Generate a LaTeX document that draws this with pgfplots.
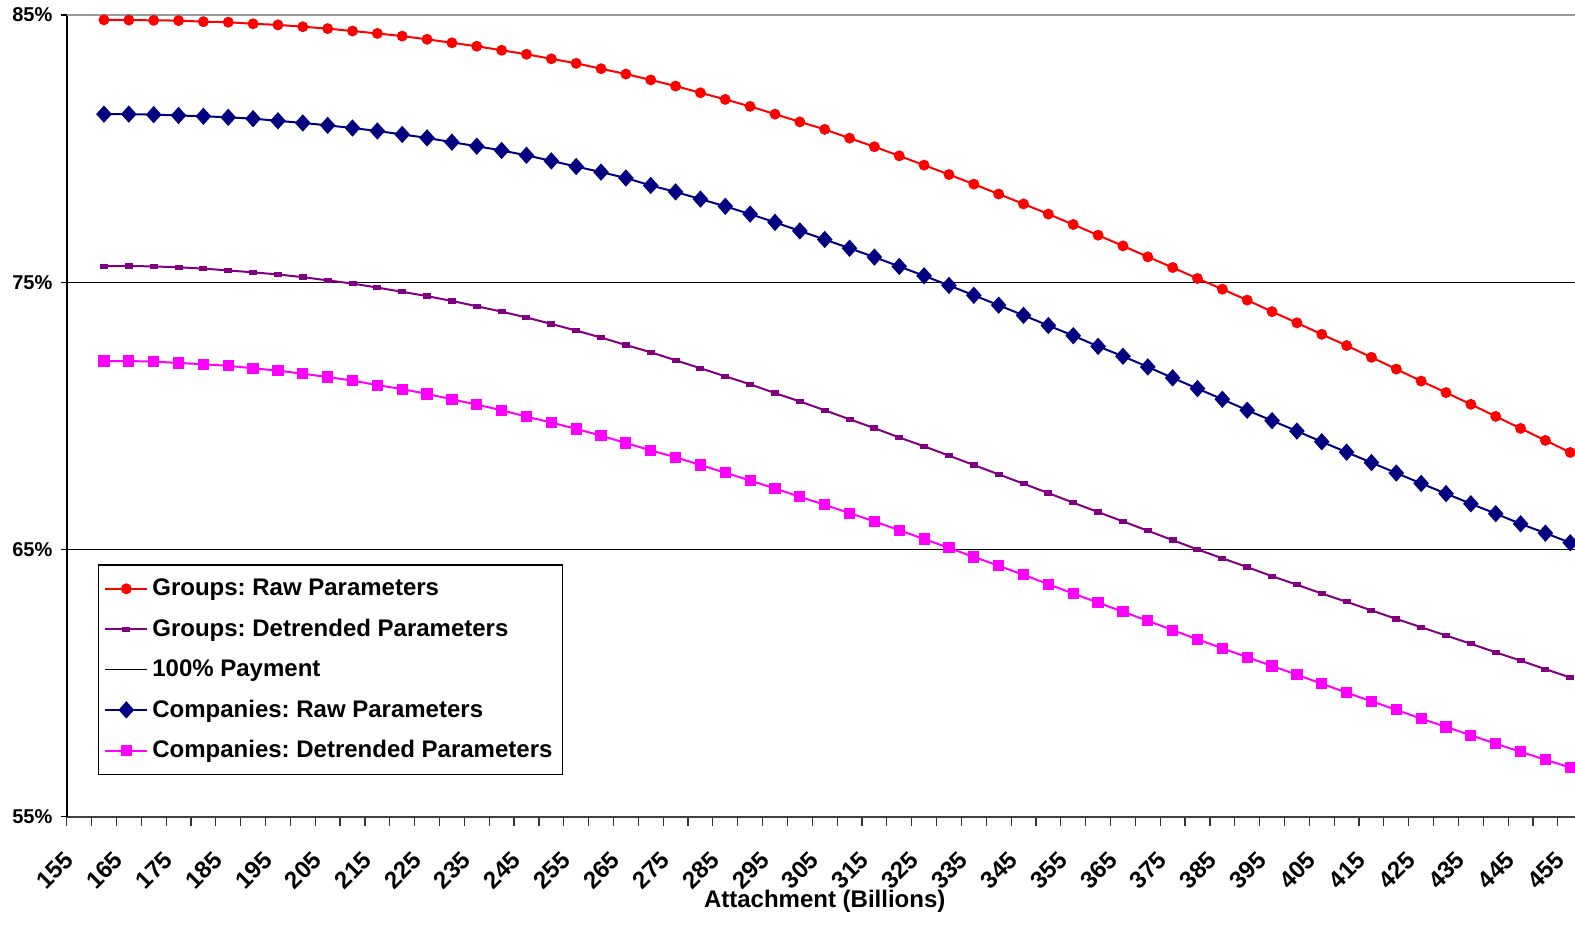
\documentclass[border=0pt]{standalone}
\usepackage{pgfplots}
\pgfplotsset{compat=1.18}
\usepackage{pgfplotstable}
\usepackage{fontspec}
\setmainfont{Liberation Sans}
\frenchspacing

\definecolor{grpraw}{RGB}{255,0,0}
\definecolor{grpdet}{RGB}{128,0,128}
\definecolor{comraw}{RGB}{0,0,128}
\definecolor{comdet}{RGB}{255,0,255}

% attachment (billions) vs. share of loss covered, in percent
\pgfplotstableread{
x    grpraw grpdet comraw comdet
160  84.82  75.60  81.29  72.05
165  84.81  75.61  81.29  72.05
170  84.80  75.59  81.27  72.03
175  84.79  75.56  81.24  71.98
180  84.75  75.51  81.21  71.93
185  84.73  75.44  81.17  71.87
190  84.67  75.37  81.12  71.78
195  84.63  75.29  81.04  71.69
200  84.56  75.19  80.96  71.58
205  84.49  75.07  80.87  71.45
210  84.40  74.95  80.77  71.32
215  84.31  74.80  80.66  71.15
220  84.21  74.64  80.53  71.00
225  84.09  74.48  80.40  70.82
230  83.96  74.30  80.24  70.62
235  83.83  74.10  80.09  70.42
240  83.68  73.90  79.93  70.21
245  83.53  73.68  79.75  69.97
250  83.36  73.44  79.54  69.75
255  83.19  73.19  79.33  69.51
260  82.99  72.93  79.12  69.26
265  82.79  72.65  78.90  68.98
270  82.57  72.38  78.62  68.71
275  82.34  72.08  78.38  68.45
280  82.09  71.78  78.11  68.16
285  81.84  71.48  77.84  67.87
290  81.58  71.18  77.55  67.58
295  81.29  70.85  77.24  67.28
300  81.00  70.54  76.92  66.97
305  80.72  70.21  76.60  66.67
310  80.39  69.87  76.27  66.36
315  80.07  69.54  75.94  66.05
320  79.73  69.19  75.59  65.72
325  79.38  68.86  75.24  65.39
330  79.03  68.51  74.88  65.06
335  78.67  68.16  74.51  64.72
340  78.30  67.81  74.14  64.39
345  77.93  67.46  73.76  64.05
350  77.55  67.11  73.38  63.70
355  77.16  66.75  73.00  63.35
360  76.76  66.40  72.60  63.01
365  76.36  66.05  72.23  62.67
370  75.95  65.70  71.83  62.33
375  75.55  65.35  71.42  61.98
380  75.14  65.00  71.02  61.64
385  74.74  64.67  70.62  61.30
390  74.33  64.34  70.21  60.97
395  73.90  64.00  69.82  60.64
400  73.48  63.68  69.43  60.31
405  73.05  63.35  69.03  59.98
410  72.63  63.04  68.64  59.64
415  72.19  62.72  68.25  59.32
420  71.75  62.40  67.86  59.00
425  71.30  62.09  67.47  58.67
430  70.87  61.78  67.09  58.36
435  70.43  61.47  66.71  58.05
440  69.98  61.15  66.34  57.73
445  69.53  60.84  65.96  57.43
450  69.08  60.52  65.61  57.13
455  68.63  60.21  65.25  56.84
}\payout

\begin{document}
\begin{tikzpicture}
\useasboundingbox (0,0) rectangle (787.5pt,462.5pt);
\begin{axis}[
  at={(33.35pt,54.15pt)}, anchor=south west,
  scale only axis, width=758pt, height=400.85pt,
  xmin=152.5, xmax=457.5, ymin=55, ymax=85,
  clip=false,
  axis x line*=bottom, axis y line*=left,
  x axis line style={draw=black!75, line width=0.9pt},
  y axis line style={draw=black, line width=0.9pt},
  /pgf/number format/assume math mode=true,
  tick align=outside,
  major tick length=3pt, minor tick length=4.5pt,
  xtick={155,165,...,455},
  minor xtick={152.5,157.5,...,457.5},
  major x tick style={draw=none},
  minor x tick style={draw=black!80, line width=0.6pt},
  ytick={55,65,75,85},
  ytick style={draw=black, line width=0.6pt},
  yticklabel={\pgfmathprintnumber{\tick}\%},
  xticklabel style={font=\bfseries\fontsize{12}{14}\selectfont, inner sep=0pt,
    xshift=-5pt, yshift=-16.5pt, rotate=45, anchor=east},
  yticklabel style={font=\bfseries\fontsize{10}{12}\selectfont, inner sep=0pt, xshift=-4pt},
  ymajorgrids, grid style={black, line width=0.6pt},
  xlabel={Attachment (Billions)},
  xlabel style={font=\bfseries\fontsize{12}{14}\selectfont,
    at={(axis description cs:0.5,-0.106)}, anchor=center},
  legend cell align=left,
  legend style={at={(rel axis cs:0.0205,0.3148)}, anchor=north west,
    draw=black, line width=0.6pt, font=\bfseries\fontsize{12}{14}\selectfont,
    inner xsep=3pt, inner ysep=5pt, row sep=6.15pt,
    /tikz/every even column/.append style={column sep=0pt}},
  legend image code/.code={\draw[mark repeat=2,mark phase=2,#1] plot coordinates {(0pt,0pt) (10.5pt,0pt) (21pt,0pt)};},
]
\draw[gray!80, line width=0.9pt] (rel axis cs:0,1) -- (rel axis cs:1,1);

\addplot[grpraw, line width=1pt, mark=*, mark size=2.2pt, mark options={solid}]
  table[x=x, y=grpraw] {\payout};
\addlegendentry{Groups: Raw Parameters}

\addplot[grpdet, line width=1pt, mark=square*, mark size=1.5pt, mark options={yscale=0.55}]
  table[x=x, y=grpdet] {\payout};
\addlegendentry{Groups: Detrended Parameters}

\addlegendimage{black, line width=0.8pt}
\addlegendentry{100\% Payment}

\addplot[comraw, line width=1pt, mark=diamond*, mark size=3.6pt, mark options={xscale=1.2}]
  table[x=x, y=comraw] {\payout};
\addlegendentry{Companies: Raw Parameters}

\addplot[comdet, line width=1pt, mark=square*, mark size=2.3pt]
  table[x=x, y=comdet] {\payout};
\addlegendentry{Companies: Detrended Parameters}
\end{axis}
\end{tikzpicture}
\end{document}
